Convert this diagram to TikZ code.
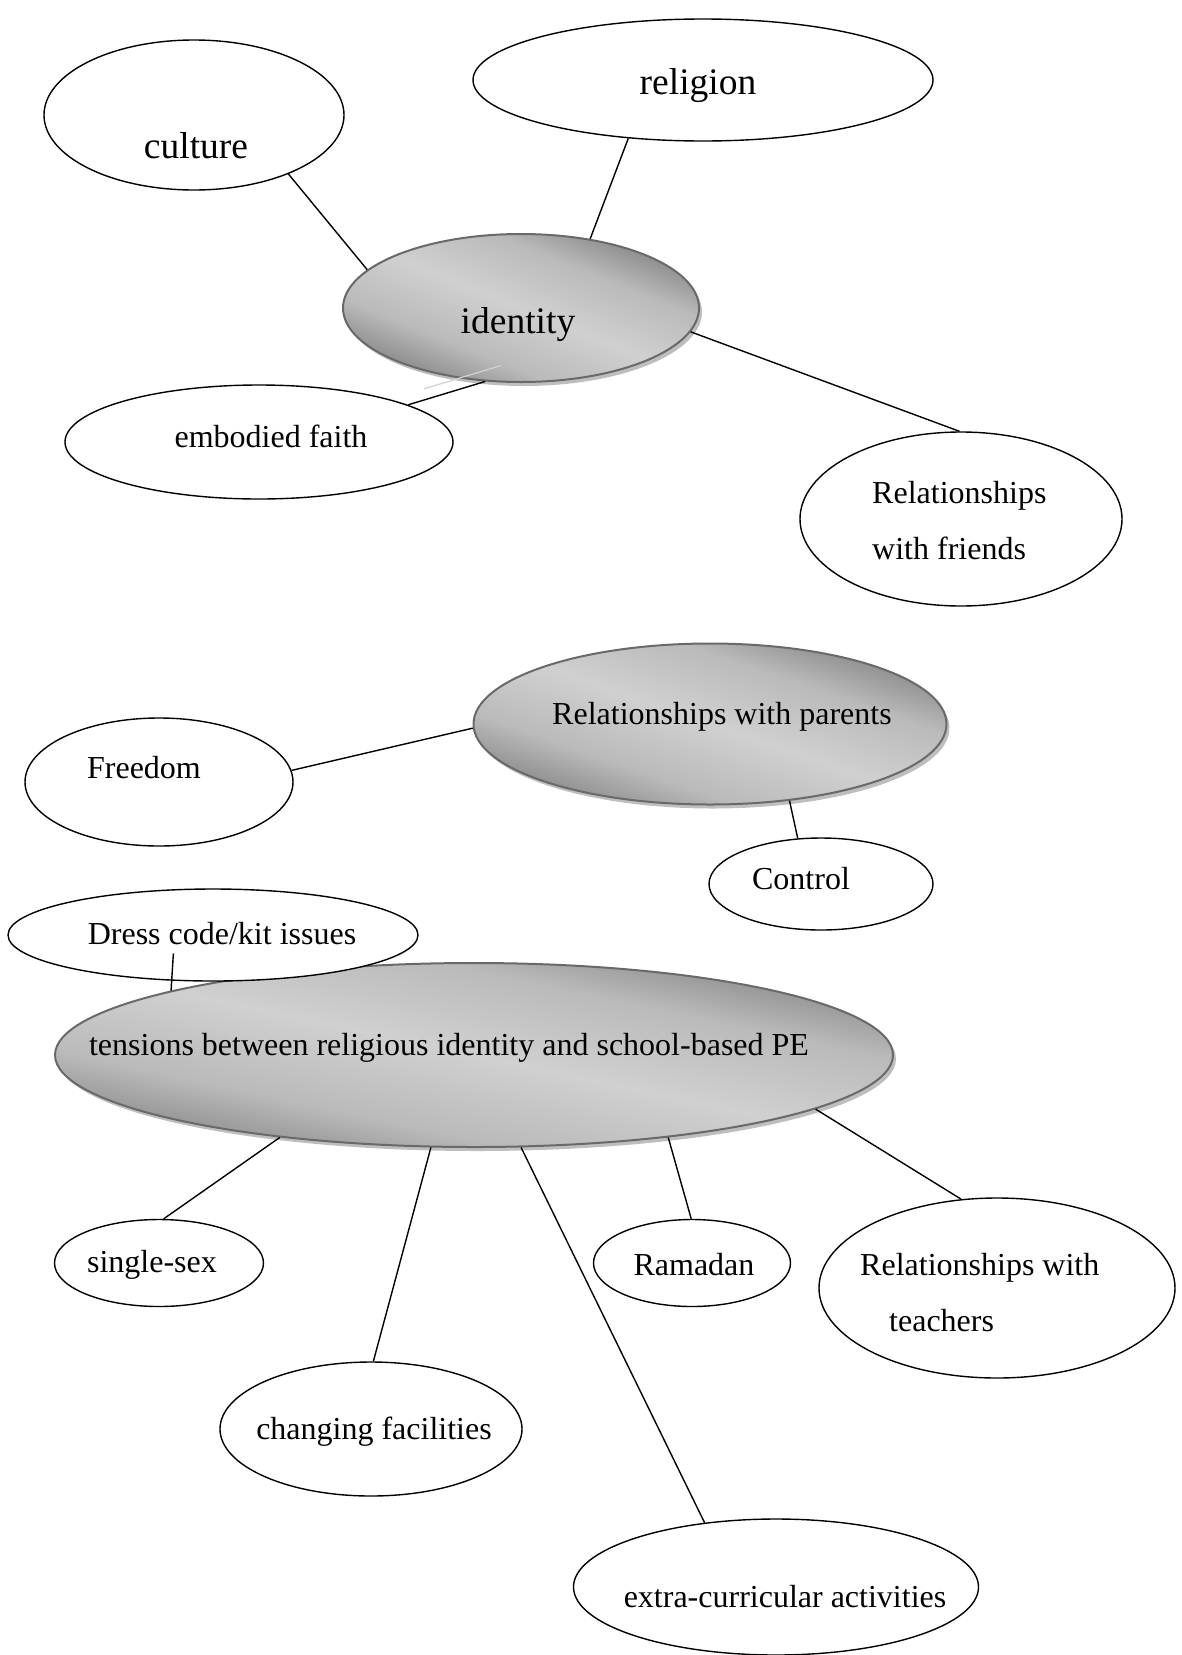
\documentclass[tikz,border=0pt]{standalone}
\usepackage{fontspec}
\setmainfont{Liberation Serif}
\usetikzlibrary{shapes.geometric, shadows, calc}

\definecolor{rimgray}{RGB}{105,105,105}
\definecolor{edgegray}{RGB}{135,135,135}
\definecolor{softgray}{RGB}{186,186,186}
\definecolor{midgray}{RGB}{208,208,208}
\definecolor{shadegray}{RGB}{190,190,190}
\pgfdeclareverticalshading{hubshade}{100bp}{color(0bp)=(edgegray); color(25bp)=(edgegray);
  color(36bp)=(softgray); color(50bp)=(midgray); color(64bp)=(softgray);
  color(75bp)=(edgegray); color(100bp)=(edgegray)}

\tikzset{
  bub/.style={ellipse, draw, line width=1.4pt, fill=white, inner sep=0pt},
  hub/.style={ellipse, draw=rimgray, line width=2pt, inner sep=0pt,
    shading=hubshade, shading angle=#1,
    drop shadow={shadow xshift=3pt, shadow yshift=-4pt, fill=shadegray, opacity=1}},
  hub/.default=-20,
  txt/.style={font=\fontsize{32}{56}\selectfont, inner sep=0pt},
  bigtxt/.style={font=\fontsize{37.5}{45}\selectfont, inner sep=0pt},
  link/.style={line width=1.4pt},
  ghost/.style={gray!35, line width=1.2pt}
}

\begin{document}
\begin{tikzpicture}[x=1pt, y=-1pt]
\useasboundingbox (0, 0) rectangle (1181, 1655);
% centres of the bubbles
\coordinate (C) at (194, 115);
\coordinate (R) at (703, 80);
\coordinate (I) at (521, 308);
\coordinate (E) at (259, 442);
\coordinate (F) at (961, 519);
\coordinate (P) at (710, 724);
\coordinate (Fr) at (159, 782);
\coordinate (Co) at (821, 884);
\coordinate (D) at (213, 935);
\coordinate (T) at (474, 1055);
\coordinate (S) at (159, 1263);
\coordinate (Ch) at (371, 1429);
\coordinate (Ra) at (692, 1263);
\coordinate (Te) at (997, 1288);
\coordinate (X) at (776, 1587);
% grey hubs
\node at (I) [name=identity, hub=-22, minimum width=356pt, minimum height=148pt] {};
\node at (P) [name=parents, hub=-19, minimum width=473pt, minimum height=161pt] {};
\node at (T) [name=tensions, hub=-12, minimum width=838pt, minimum height=184pt] {};
% white bubbles
\node at (C) [name=culture, bub, minimum width=300pt, minimum height=150pt] {};
\node at (R) [name=religion, bub, minimum width=460pt, minimum height=122pt] {};
\node at (E) [name=faith, bub, minimum width=388pt, minimum height=114pt] {};
\node at (F) [name=friends, bub, minimum width=322pt, minimum height=174pt] {};
\node at (Fr) [name=freedom, bub, minimum width=268pt, minimum height=128pt] {};
\node at (Co) [name=control, bub, minimum width=224pt, minimum height=92pt] {};
\node at (D) [name=dress, bub, minimum width=410pt, minimum height=92pt] {};
\node at (S) [name=single, bub, minimum width=209pt, minimum height=87pt] {};
\node at (Ch) [name=changing, bub, minimum width=302pt, minimum height=134pt] {};
\node at (Ra) [name=ramadan, bub, minimum width=197pt, minimum height=87pt] {};
\node at (Te) [name=teachers, bub, minimum width=356pt, minimum height=180pt] {};
\node at (X) [name=extra, bub, minimum width=405pt, minimum height=136pt] {};
% texts
\node at (196, 146) [name=t-culture, bigtxt] {culture};
\node at (698, 86) [name=t-religion, bigtxt] {religion};
\node at (518, 325) [name=t-identity, bigtxt] {identity};
\node at (271, 436) [name=t-faith, txt] {embodied faith};
\node at (872, 521) [name=t-friends, txt, anchor=west, align=left] {Relationships\\with friends};
\node at (722, 717) [name=t-parents, txt] {Relationships with parents};
\node at (144, 768) [name=t-freedom, txt] {Freedom};
\node at (801, 879) [name=t-control, txt] {Control};
\node at (222, 934) [name=t-dress, txt] {Dress code/kit issues};
\node at (449, 1048) [name=t-tensions, txt] {tensions between religious identity and school-based PE};
\node at (152, 1265) [name=t-single, txt] {single-sex};
\node at (374, 1432) [name=t-changing, txt] {changing facilities};
\node at (694, 1265) [name=t-ramadan, txt] {Ramadan};
\node at (860, 1293) [name=t-teachers, txt, anchor=west, align=left] {Relationships with\\\hspace{29pt}teachers};
\node at (785, 1597) [name=t-extra, txt] {extra-curricular activities};
% links
\draw [link] (culture.-32) -- (identity.166);
\draw [link] (religion.-142) -- (identity.45);
\draw [link] (identity.-8) -- (friends.91);
\draw [ghost] ([shift={(16,-16)}]identity.-116) -- ([shift={(16,-16)}]faith.14);
\draw [link] (identity.-116) -- (faith.14);
\draw [link] (freedom.5) -- (parents.181);
\draw [link] (parents.-44) -- (control.117);
\draw [link] ($(dress.center)!.44!(dress.-155)$) -- (tensions.168);
\draw [link] (tensions.-157) -- (single.84);
\draw [link] (tensions.-115) -- (changing.88);
\draw [link] (tensions.-63) -- (extra.138);
\draw [link] (tensions.-23) -- (ramadan.91);
\draw [link] (tensions.-9) -- (teachers.112);
\end{tikzpicture}
\end{document}
